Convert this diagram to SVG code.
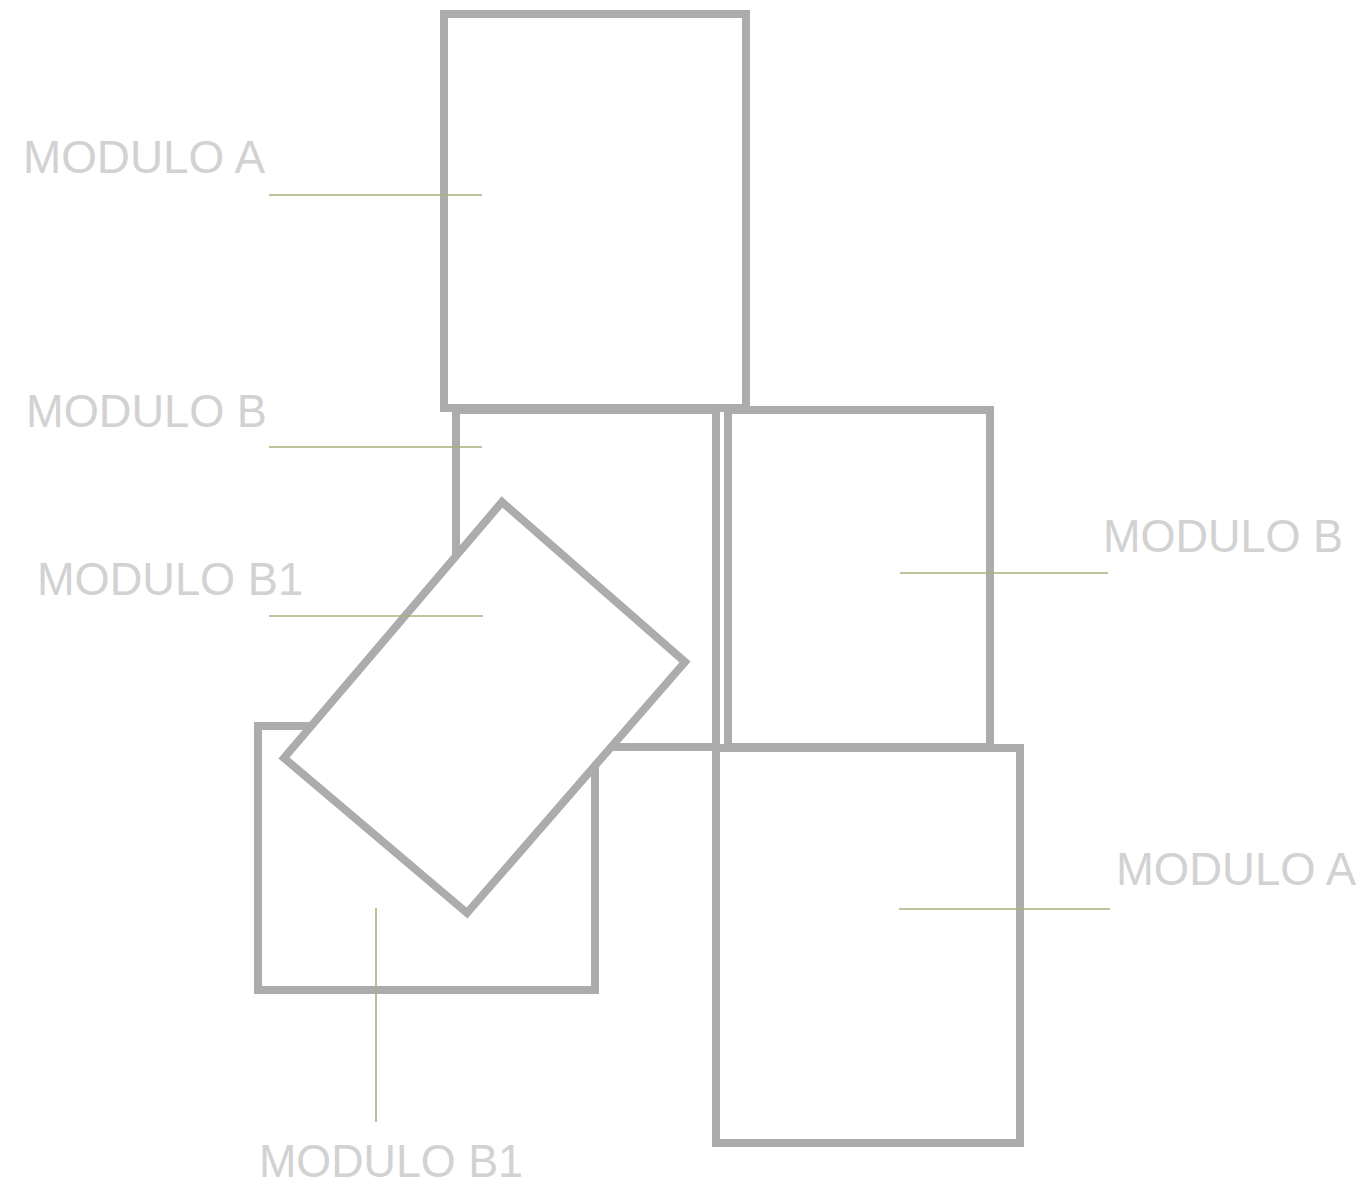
<svg xmlns="http://www.w3.org/2000/svg" width="1358" height="1187" viewBox="0 0 1358 1187">
<style>
.mod{fill:#ffffff;stroke:#acacac;stroke-width:8;stroke-linejoin:miter}
.lbl{font-family:"Liberation Sans",Arial,sans-serif;font-size:46px;fill:#d2d2d2}
.lead{stroke:#a9b07a;stroke-width:1.6;fill:none}
</style>
<rect width="1358" height="1187" fill="#ffffff"/>
<g id="moduloA-top"><rect class="mod" x="444" y="14" width="302" height="394"/></g>
<g id="moduloB-left"><rect class="mod" x="456" y="410" width="260" height="337"/></g>
<g id="moduloB-right"><rect class="mod" x="728" y="410" width="262" height="337"/></g>
<g id="moduloA-bottom"><rect class="mod" x="716" y="748" width="304" height="395"/></g>
<g id="moduloB1-square"><rect class="mod" x="258" y="726" width="337" height="264"/></g>
<g id="moduloB1-rotated"><polygon class="mod" points="502,502 685,662 467,913 284,758"/></g>
<g id="connectors">
<line class="lead" x1="269" y1="195" x2="482" y2="195"/>
<line class="lead" x1="269" y1="447" x2="482" y2="447"/>
<line class="lead" x1="269" y1="616" x2="483" y2="616"/>
<line class="lead" x1="900" y1="573" x2="1108" y2="573"/>
<line class="lead" x1="899" y1="909" x2="1110" y2="909"/>
<line class="lead" x1="376" y1="908" x2="376" y2="1122"/>
</g>
<g id="labels">
<text class="lbl" x="23" y="173" textLength="242" lengthAdjust="spacingAndGlyphs">MODULO A</text>
<text class="lbl" x="26" y="427" textLength="241" lengthAdjust="spacingAndGlyphs">MODULO B</text>
<text class="lbl" x="37" y="595" textLength="266" lengthAdjust="spacingAndGlyphs">MODULO B1</text>
<text class="lbl" x="1103" y="552" textLength="240" lengthAdjust="spacingAndGlyphs">MODULO B</text>
<text class="lbl" x="1116" y="885" textLength="240" lengthAdjust="spacingAndGlyphs">MODULO A</text>
<text class="lbl" x="259" y="1177" textLength="264" lengthAdjust="spacingAndGlyphs">MODULO B1</text>
</g>
</svg>
